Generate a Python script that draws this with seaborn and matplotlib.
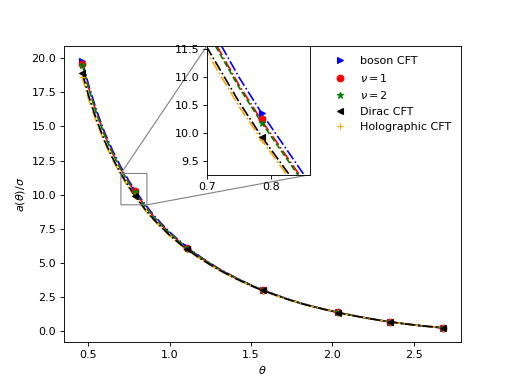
import seaborn as sns
import matplotlib.pyplot as plt

# Curvas a(theta)/sigma
theta_line = [0.4636, 0.50, 0.55, 0.60, 0.65, 0.70, 0.75, 0.785, 0.85, 0.90, 0.95, 1.00, 1.05, 1.107,
              1.2, 1.3, 1.4, 1.5, 1.571, 1.7, 1.8, 1.9, 2.034, 2.1, 2.2, 2.3, 2.356, 2.45, 2.55, 2.62, 2.678]

boson_line = [19.78, 18.09, 16.18, 14.56, 13.21, 12.02, 10.99, 10.35, 9.26, 8.51, 7.86, 7.25, 6.71, 6.15,
              5.34, 4.58, 3.94, 3.36, 3.01, 2.44, 2.05, 1.73, 1.35, 1.19, 0.96, 0.76, 0.66, 0.51, 0.37, 0.29, 0.22]
nu1_line = [19.56, 17.89, 15.99, 14.39, 13.04, 11.87, 10.85, 10.22, 9.14, 8.41, 7.77, 7.18, 6.65, 6.10,
            5.31, 4.56, 3.92, 3.35, 3.00, 2.43, 2.05, 1.73, 1.35, 1.19, 0.96, 0.76, 0.66, 0.51, 0.37, 0.29, 0.22]
nu2_line = [19.50, 17.84, 15.94, 14.34, 12.99, 11.82, 10.81, 10.18, 9.10, 8.38, 7.74, 7.16, 6.63, 6.09,
            5.30, 4.55, 3.92, 3.35, 3.00, 2.43, 2.05, 1.73, 1.35, 1.19, 0.96, 0.76, 0.66, 0.51, 0.37, 0.29, 0.22]
dirac_line = [18.90, 17.30, 15.48, 13.94, 12.65, 11.53, 10.55, 9.93, 8.90, 8.20, 7.59, 7.02, 6.51, 5.98,
              5.21, 4.49, 3.87, 3.31, 2.97, 2.41, 2.03, 1.72, 1.34, 1.18, 0.96, 0.76, 0.66, 0.51, 0.37, 0.29, 0.22]
holo_line = [18.60, 17.07, 15.30, 13.81, 12.54, 11.44, 10.47, 9.87, 8.84, 8.15, 7.54, 6.97, 6.47, 5.95,
             5.19, 4.47, 3.85, 3.30, 2.96, 2.40, 2.03, 1.72, 1.34, 1.18, 0.96, 0.76, 0.66, 0.51, 0.37, 0.29, 0.22]

# Pontos marcados
theta_pts = [0.4636, 0.785, 1.107, 1.571, 2.034, 2.356, 2.678]
boson_pts = [19.78, 10.35, 6.15, 3.01, 1.35, 0.66, 0.22]
nu1_pts = [19.56, 10.24, 6.10, 3.00, 1.35, 0.66, 0.22]
nu2_pts = [19.50, 10.18, 6.09, 3.00, 1.35, 0.66, 0.22]
dirac_pts = [18.90, 9.93, 5.98, 2.97, 1.34, 0.66, 0.22]
holo_pts = [18.60, 9.87, 5.95, 2.96, 1.34, 0.66, 0.22]

series = [
    ('boson CFT', boson_line, boson_pts, 'blue', '-.', '>'),
    (r'$\nu=1$', nu1_line, nu1_pts, 'red', '-.', 'o'),
    (r'$\nu=2$', nu2_line, nu2_pts, 'green', '--', '*'),
    ('Holographic CFT', holo_line, holo_pts, 'orange', '-.', '+'),
    ('Dirac CFT', dirac_line, dirac_pts, 'black', '-.', '<'),
]
legend_order = ['boson CFT', r'$\nu=1$', r'$\nu=2$', 'Dirac CFT', 'Holographic CFT']

fig, ax = plt.subplots(figsize=(6.4, 4.8), dpi=80)
axins = ax.inset_axes([0.36, 0.565, 0.26, 0.435])

for a in (ax, axins):
    for name, yl, yp, c, ls, m in series:
        sns.lineplot(x=theta_line, y=yl, color=c, linestyle=ls, linewidth=1.5, ax=a, sort=False)
    for name, yl, yp, c, ls, m in series:
        a.plot(theta_pts, yp, linestyle='none', marker=m, color=c, label=name)

ax.set_xlim(0.35, 2.79)
ax.set_ylim(-0.8, 20.9)
ax.set_xlabel(r'$\theta$')
ax.set_ylabel(r'$a(\theta)/\sigma$')

axins.set_xlim(0.7, 0.86)
axins.set_ylim(9.25, 11.55)
axins.set_xticks([0.7, 0.8])
axins.set_yticks([9.5, 10.0, 10.5, 11.0, 11.5])
ind = ax.indicate_inset_zoom(axins, edgecolor='gray', alpha=1.0)
# conectores: canto superior esquerdo e inferior direito
for k, con in enumerate(ind.connectors):
    con.set_visible(k in (1, 2))
    con.set_color('gray')
    con.set_alpha(1.0)

handles, labels = ax.get_legend_handles_labels()
hmap = dict(zip(labels, handles))
ax.legend([hmap[l] for l in legend_order], legend_order, loc='upper right', frameon=False)

fig.savefig('out.png', dpi=80)
